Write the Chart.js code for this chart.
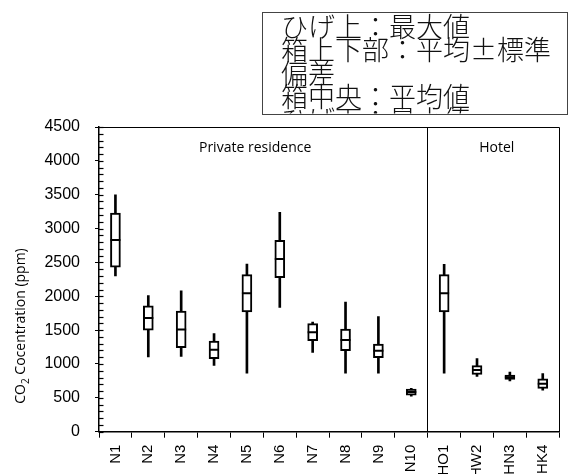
<!DOCTYPE html>
<html><head><meta charset="utf-8">
<script src="https://cdn.jsdelivr.net/npm/chart.js@4/dist/chart.umd.min.js"></script>
<style>html,body{margin:0;padding:0;background:#fff;overflow:hidden}</style>
</head><body>
<canvas id="c" width="568" height="474" style="width:568px;height:474px;display:block"></canvas>
<script>
const categories = ['N1','N2','N3','N4','N5','N6','N7','N8','N9','N10','HO1','HW2','HN3','HK4'];
const meanValues = [2830,1680,1510,1210,2045,2550,1470,1355,1195,585,2045,910,805,710];
const sdValues   = [400,180,270,130,275,275,125,160,100,45,275,65,33,72];
const maxValues  = [3500,2010,2080,1450,2475,3240,1620,1915,1700,640,2470,1080,880,860];
const minValues  = [2300,1105,1110,980,865,1835,1170,865,865,525,865,815,750,612];
const yMin = 0, yMax = 4500, yMajorStep = 500, yMinorStep = 100;
const groupLabels = ['Private residence','Hotel'];
const groupLabelPos = [4.25, 11.6];
const dividerIndex = 10;
const yTitleParts = ['CO','2',' Cocentration (ppm)'];
const noteLines = ['ひげ上：最大値','箱上下部：平均±標準','偏差','箱中央：平均値','ひげ下：最小値'];

const boxData = categories.map((_,i)=>[meanValues[i]-sdValues[i], meanValues[i]+sdValues[i]]);
const whiskerData = categories.map((_,i)=>[minValues[i], maxValues[i]]);

const decor = {
  id:'decor',
  afterDraw(chart){
    const {ctx, chartArea:a, scales:{x,y}} = chart;
    ctx.save();
    ctx.strokeStyle='#000'; ctx.lineWidth=1;
    ctx.beginPath();
    ctx.moveTo(a.left, Math.round(a.top)+0.5);
    ctx.lineTo(Math.round(a.right)+0.5, Math.round(a.top)+0.5);
    ctx.lineTo(Math.round(a.right)+0.5, a.bottom);
    ctx.stroke();
    ctx.lineWidth=1.2;
    for(let v=yMin; v<=yMax; v+=yMinorStep){
      const py=Math.round(y.getPixelForValue(v))+0.5;
      ctx.beginPath(); ctx.moveTo(a.left,py); ctx.lineTo(a.left+4.5,py); ctx.stroke();
    }
    ctx.fillStyle='#000'; ctx.font='14px "Open Sans"'; ctx.textAlign='center'; ctx.textBaseline='alphabetic';
    groupLabels.forEach((t,i)=>ctx.fillText(t, x.getPixelForValue(groupLabelPos[i]), a.top+25));
    ctx.save();
    ctx.translate(21.5, 326); ctx.rotate(-Math.PI/2);
    ctx.textAlign='left'; ctx.textBaseline='middle';
    ctx.font='14px "Open Sans"'; const w1=ctx.measureText(yTitleParts[0]).width, w3=ctx.measureText(yTitleParts[2]).width;
    ctx.font='10px "Open Sans"'; const w2=ctx.measureText(yTitleParts[1]).width;
    let sx=-(w1+w2+w3)/2;
    ctx.font='14px "Open Sans"'; ctx.fillText(yTitleParts[0], sx, 0); sx+=w1;
    ctx.font='10px "Open Sans"'; ctx.fillText(yTitleParts[1], sx, 4.5); sx+=w2;
    ctx.font='14px "Open Sans"'; ctx.fillText(yTitleParts[2], sx, 0);
    ctx.restore();
    const bx=262.5, by=12.5, bw=305, bh=102;
    ctx.fillStyle='#fff'; ctx.fillRect(bx,by,bw,bh);
    ctx.strokeStyle='#444'; ctx.lineWidth=1; ctx.strokeRect(bx,by,bw,bh);
    ctx.save();
    ctx.beginPath(); ctx.rect(bx+1,by+1,bw-2,bh-2); ctx.clip();
    ctx.fillStyle='#111'; ctx.font='300 27px "Noto Sans CJK JP"'; ctx.textAlign='left'; ctx.textBaseline='alphabetic';
    noteLines.forEach((t,i)=>ctx.fillText(t, 281, 37+i*23.3));
    ctx.restore();
    ctx.restore();
  }
};

new Chart(document.getElementById('c'), {
  type:'bar',
  data:{labels:categories, datasets:[
    {type:'line', data:meanValues, showLine:false, pointStyle:'line', pointRadius:5, pointHoverRadius:5,
     borderColor:'#000', pointBorderColor:'#000', pointBorderWidth:2, order:1},
    {data:boxData, backgroundColor:'#fff', borderColor:'#000', borderWidth:2, borderSkipped:false,
     barThickness:10, grouped:false, order:2},
    {data:whiskerData, backgroundColor:'#000', borderWidth:0, barThickness:2, grouped:false, order:3}
  ]},
  options:{
    responsive:false, animation:false, events:[],
    layout:{padding:{top:127, right:6, left:0, bottom:0}},
    plugins:{legend:{display:false}, tooltip:{enabled:false}},
    scales:{
      x:{
        offset:true,
        grid:{offset:true, drawOnChartArea:true, color:c=>c.index===dividerIndex?'#000':'rgba(0,0,0,0)',
              tickColor:'#000', tickLength:6, lineWidth:1},
        border:{color:'#000', width:1.5},
        ticks:{autoSkip:false, minRotation:90, maxRotation:90, padding:7, color:'#000',
               font:{family:'"Liberation Sans"', size:15}},
        afterFit:s=>{s.height=42.3;}
      },
      y:{
        min:yMin, max:yMax,
        ticks:{stepSize:yMajorStep, padding:15, color:'#000', font:{family:'"Liberation Sans"', size:16},
               callback:v=>String(v)},
        grid:{drawOnChartArea:false, tickLength:4, color:'#000'},
        border:{color:'#000', width:1.5},
        afterFit:s=>{s.width=99;}
      }
    }
  },
  plugins:[decor]
});
</script>
</body></html>
